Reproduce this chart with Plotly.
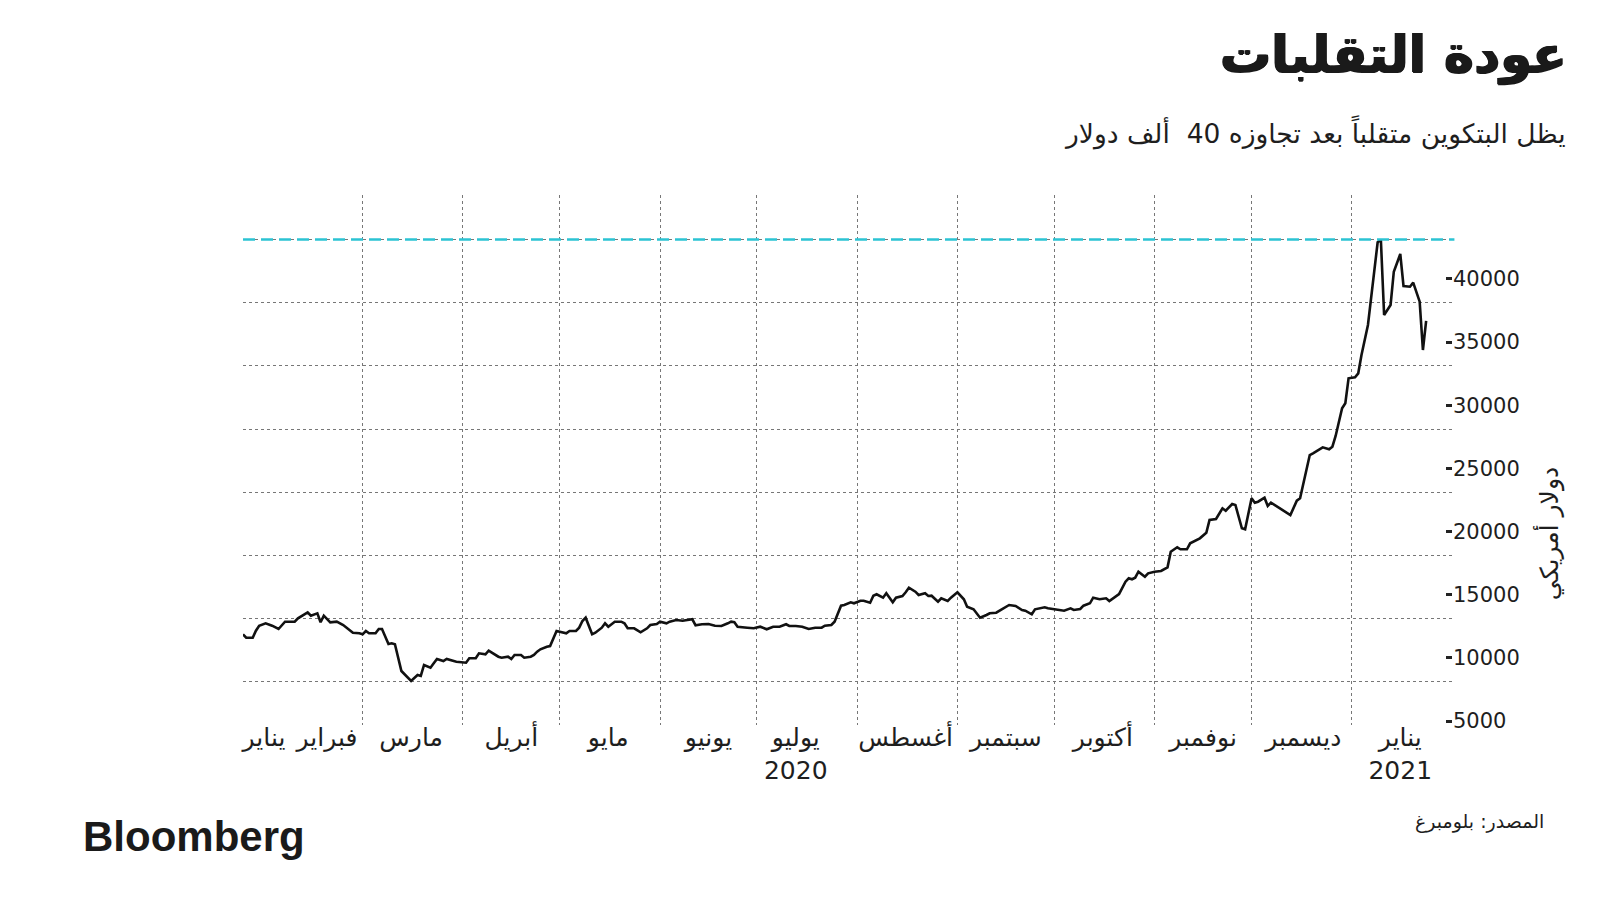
import plotly.graph_objects as go

# ---------------- data ----------------
DATES = [
    "2020-01-24", "2020-01-25", "2020-01-27", "2020-01-28", "2020-01-29", "2020-01-31",
    "2020-02-02", "2020-02-04", "2020-02-06", "2020-02-09", "2020-02-10", "2020-02-12", "2020-02-13", "2020-02-14",
    "2020-02-16", "2020-02-17", "2020-02-18", "2020-02-20", "2020-02-22", "2020-02-24", "2020-02-27", "2020-02-29",
    "2020-03-01", "2020-03-02", "2020-03-03", "2020-03-05", "2020-03-06", "2020-03-07", "2020-03-09", "2020-03-10",
    "2020-03-11", "2020-03-13", "2020-03-14", "2020-03-16", "2020-03-18", "2020-03-19", "2020-03-20", "2020-03-22",
    "2020-03-23", "2020-03-24", "2020-03-26", "2020-03-27", "2020-03-30",
    "2020-04-02", "2020-04-03", "2020-04-05", "2020-04-06", "2020-04-08", "2020-04-09", "2020-04-10", "2020-04-12",
    "2020-04-13", "2020-04-15", "2020-04-16", "2020-04-17", "2020-04-19", "2020-04-20", "2020-04-22", "2020-04-23",
    "2020-04-24", "2020-04-25", "2020-04-27", "2020-04-28", "2020-04-30",
    "2020-05-01", "2020-05-03", "2020-05-04", "2020-05-06", "2020-05-07", "2020-05-08", "2020-05-09", "2020-05-11",
    "2020-05-12", "2020-05-14", "2020-05-15", "2020-05-16", "2020-05-18", "2020-05-20", "2020-05-21", "2020-05-22",
    "2020-05-24", "2020-05-25", "2020-05-26", "2020-05-28", "2020-05-29", "2020-05-31",
    "2020-06-01", "2020-06-03", "2020-06-04", "2020-06-06", "2020-06-08", "2020-06-11", "2020-06-12", "2020-06-14",
    "2020-06-16", "2020-06-18", "2020-06-20", "2020-06-22", "2020-06-23", "2020-06-24", "2020-06-25", "2020-06-28",
    "2020-06-30",
    "2020-07-02", "2020-07-04", "2020-07-06", "2020-07-08", "2020-07-10", "2020-07-11", "2020-07-13", "2020-07-15",
    "2020-07-17", "2020-07-19", "2020-07-21", "2020-07-22", "2020-07-24", "2020-07-25", "2020-07-27", "2020-07-28",
    "2020-07-30", "2020-07-31",
    "2020-08-02", "2020-08-03", "2020-08-05", "2020-08-06", "2020-08-07", "2020-08-09", "2020-08-10", "2020-08-12",
    "2020-08-13", "2020-08-15", "2020-08-16", "2020-08-17", "2020-08-19", "2020-08-20", "2020-08-22", "2020-08-23",
    "2020-08-24", "2020-08-26", "2020-08-27", "2020-08-29", "2020-08-30",
    "2020-09-01", "2020-09-03", "2020-09-04", "2020-09-06", "2020-09-08", "2020-09-10", "2020-09-11", "2020-09-13",
    "2020-09-15", "2020-09-17", "2020-09-19", "2020-09-21", "2020-09-22", "2020-09-24", "2020-09-25", "2020-09-28",
    "2020-09-29",
    "2020-10-02", "2020-10-04", "2020-10-06", "2020-10-07", "2020-10-09", "2020-10-10", "2020-10-12", "2020-10-13",
    "2020-10-15", "2020-10-17", "2020-10-18", "2020-10-20", "2020-10-21", "2020-10-23", "2020-10-24", "2020-10-25",
    "2020-10-26", "2020-10-27", "2020-10-29", "2020-10-30",
    "2020-11-01", "2020-11-03", "2020-11-05", "2020-11-06", "2020-11-08", "2020-11-09", "2020-11-11", "2020-11-12",
    "2020-11-14", "2020-11-15", "2020-11-17", "2020-11-18", "2020-11-20", "2020-11-22", "2020-11-23", "2020-11-25",
    "2020-11-26", "2020-11-28", "2020-11-29",
    "2020-12-01", "2020-12-02", "2020-12-03", "2020-12-05", "2020-12-06", "2020-12-07", "2020-12-13", "2020-12-15",
    "2020-12-16", "2020-12-19", "2020-12-20", "2020-12-23", "2020-12-25", "2020-12-26", "2020-12-27", "2020-12-29",
    "2020-12-30", "2020-12-31",
    "2021-01-02", "2021-01-03", "2021-01-04", "2021-01-06", "2021-01-07", "2021-01-09", "2021-01-10", "2021-01-11",
    "2021-01-13", "2021-01-14", "2021-01-16", "2021-01-17", "2021-01-19", "2021-01-20", "2021-01-22", "2021-01-23",
    "2021-01-24",
]

PRICE_USD = [
    8754, 8485, 8485, 9039, 9435, 9625,
    9435, 9174, 9752, 9752, 10020, 10361, 10496, 10227, 10416, 9704, 10227, 9704, 9752, 9490, 8881, 8833,
    8754, 9015, 8833, 8833, 9174, 9174, 7986, 8042, 7963, 5849, 5612, 5058, 5533, 5454, 6324, 6110, 6459, 6799,
    6641, 6799, 6585,
    6506, 6854, 6854, 7250, 7171, 7456, 7298, 6981, 6902, 6981, 6799, 7116, 7116, 6902, 6981, 7116, 7377, 7567,
    7773, 7828, 9015,
    8960, 8833, 9015, 9015, 9277, 9807, 10068, 8754, 8881, 9277, 9625, 9356, 9752, 9752, 9625, 9229, 9229, 9039,
    8912, 9229, 9490, 9569,
    9752, 9625, 9752, 9886, 9831, 9942, 9466, 9546, 9569, 9435, 9411, 9625, 9752, 9704, 9356, 9277, 9229,
    9356, 9150, 9356, 9356, 9546, 9411, 9411, 9356, 9174, 9277, 9277, 9435, 9490, 9752, 11018, 11073, 11287, 11208,
    11414, 11414, 11255, 11810, 11921, 11652, 12000, 11287, 11652, 11786, 12079, 12443, 12126, 11865, 12000, 11786,
    11810, 11335, 11604, 11390, 11652,
    12079, 11525, 10939, 10733, 10068, 10282, 10416, 10464, 10757, 11073, 10994, 10678, 10622, 10337, 10733, 10891,
    10812,
    10678, 10622, 10812, 10678, 10757, 11018, 11208, 11652, 11525, 11604, 11390, 11786, 11944, 12918, 13187, 13108,
    13234, 13709, 13313, 13582,
    13709, 13764, 14055, 15292, 15640, 15482, 15482, 15957, 16219, 16352, 16796, 17801, 17880, 18727, 18537, 19067,
    18988, 17144, 17065,
    19519, 19171, 19250, 19566, 18909, 19171, 18196, 19329, 19519, 22946, 23080, 23554, 23396, 23601, 24450, 26642,
    27038, 29016,
    29095, 29410, 30864, 33238, 35475, 39782, 39964, 34028, 34820, 37454, 38855, 36322, 36267, 36584, 35080, 31256,
    33554,
]

THRESHOLD_USD = 40000

# month gridlines (month starts) and month tick labels
GRID_MONTHS = ["2020-03-01", "2020-04-01", "2020-05-01", "2020-06-01", "2020-07-01", "2020-08-01",
               "2020-09-01", "2020-10-01", "2020-11-01", "2020-12-01", "2021-01-01", "2021-02-01"]
MONTH_LABEL_POS = ["2020-01-30 12:00", "2020-02-19 00:00", "2020-03-16", "2020-04-16", "2020-05-16",
                   "2020-06-16", "2020-07-13", "2020-08-16", "2020-09-16", "2020-10-16", "2020-11-16",
                   "2020-12-17", "2021-01-16"]
MONTH_LABELS = ["يناير", "فبراير", "مارس", "أبريل", "مايو", "يونيو", "يوليو<br>2020", "أغسطس",
                "سبتمبر", "أكتوبر", "نوفمبر", "ديسمبر", "يناير<br>2021"]
Y_TICKS = [5000, 10000, 15000, 20000, 25000, 30000, 35000, 40000]

X_RANGE = ["2020-01-24", "2021-02-01"]
Y_RANGE = [1575, 43525]          # scale of the line and gridlines
Y_LABEL_RANGE = [4694, 46636]    # scale of the printed tick labels (offset in the original)

TITLE = "عودة التقلبات"
SUBTITLE = "يظل البتكوين متقلباً بعد تجاوزه 40  ألف دولار"
Y_TITLE = "دولار أمريكي"
SOURCE = "المصدر: بلومبرغ"

FONT = "DejaVu Sans"
TXT = "#1e1e1e"
GRID = "#777777"

fig = go.Figure()
fig.add_trace(go.Scatter(x=DATES, y=PRICE_USD, mode="lines",
                         line=dict(color="#111111", width=2.6),
                         showlegend=False, hoverinfo="skip"))
# empty traces so that the label-only axes (x2 and y2) are created and drawn
fig.add_trace(go.Scatter(x=X_RANGE, y=[None, None], xaxis="x2", yaxis="y",
                         mode="lines", showlegend=False, hoverinfo="skip"))
fig.add_trace(go.Scatter(x=X_RANGE, y=[None, None], xaxis="x", yaxis="y2",
                         mode="lines", showlegend=False, hoverinfo="skip"))

fig.add_shape(type="line", xref="paper", x0=0, x1=1.002, yref="y",
              y0=THRESHOLD_USD, y1=THRESHOLD_USD,
              line=dict(color="#2cc3d3", width=2.6, dash="12px,6px"))

fig.update_layout(
    width=1600, height=900,
    margin=dict(l=243, r=148, t=195, b=175),
    plot_bgcolor="white", paper_bgcolor="white",
    font=dict(family=FONT, color=TXT),
    hovermode=False,
    xaxis=dict(type="date", range=X_RANGE, tickvals=GRID_MONTHS, showticklabels=False,
               showgrid=True, gridcolor=GRID, griddash="dot", gridwidth=1.2,
               zeroline=False, showline=False, ticks=""),
    xaxis2=dict(type="date", range=X_RANGE, overlaying="x", anchor="y", side="bottom",
                tickvals=MONTH_LABEL_POS, ticktext=MONTH_LABELS, showgrid=False,
                zeroline=False, showline=False, ticks="", ticklabelstandoff=-5,
                tickfont=dict(family=FONT, size=25, color=TXT)),
    yaxis=dict(range=Y_RANGE, dtick=5000, tick0=0, showticklabels=False,
               showgrid=True, gridcolor=GRID, griddash="dot", gridwidth=1.2,
               zeroline=False, showline=False, ticks=""),
    yaxis2=dict(range=Y_LABEL_RANGE, overlaying="y", anchor="x", side="right",
                tickvals=Y_TICKS, tickformat="d", ticks="inside", ticklen=6, tickwidth=2.5,
                tickcolor="#222", showgrid=False, zeroline=False, showline=False,
                tickfont=dict(family=FONT, size=21, color=TXT)),
    annotations=[
        dict(text="<b>" + TITLE + "</b>", xref="paper", yref="paper", x=1.0968, y=1.264,
             xanchor="right", yanchor="middle", showarrow=False,
             font=dict(family=FONT, size=51, color="#1a1a1a",
                       shadow="0.9px 0 0 #1a1a1a, -0.9px 0 0 #1a1a1a, 0 0.9px 0 #1a1a1a")),
        dict(text=SUBTITLE, xref="paper", yref="paper", x=1.096, y=1.117,
             xanchor="right", yanchor="middle", showarrow=False,
             font=dict(family=FONT, size=26.5, color=TXT)),
        dict(text=Y_TITLE, xref="paper", yref="paper", x=1.0794, y=0.362, textangle=-90,
             xanchor="center", yanchor="middle", showarrow=False,
             font=dict(family=FONT, size=25, color=TXT)),
        dict(text=SOURCE, xref="paper", yref="paper", x=1.0778, y=-0.183,
             xanchor="right", yanchor="middle", showarrow=False,
             font=dict(family=FONT, size=19, color=TXT)),
        dict(text="<b>Bloomberg</b>", xref="paper", yref="paper", x=-0.134, y=-0.2097,
             xanchor="left", yanchor="middle", showarrow=False,
             font=dict(family="Liberation Sans", size=42, color="#1a1a1a")),
    ],
)

fig.write_html("out.html", config={"displayModeBar": False},
               post_script="document.body.style.margin='0px';")
